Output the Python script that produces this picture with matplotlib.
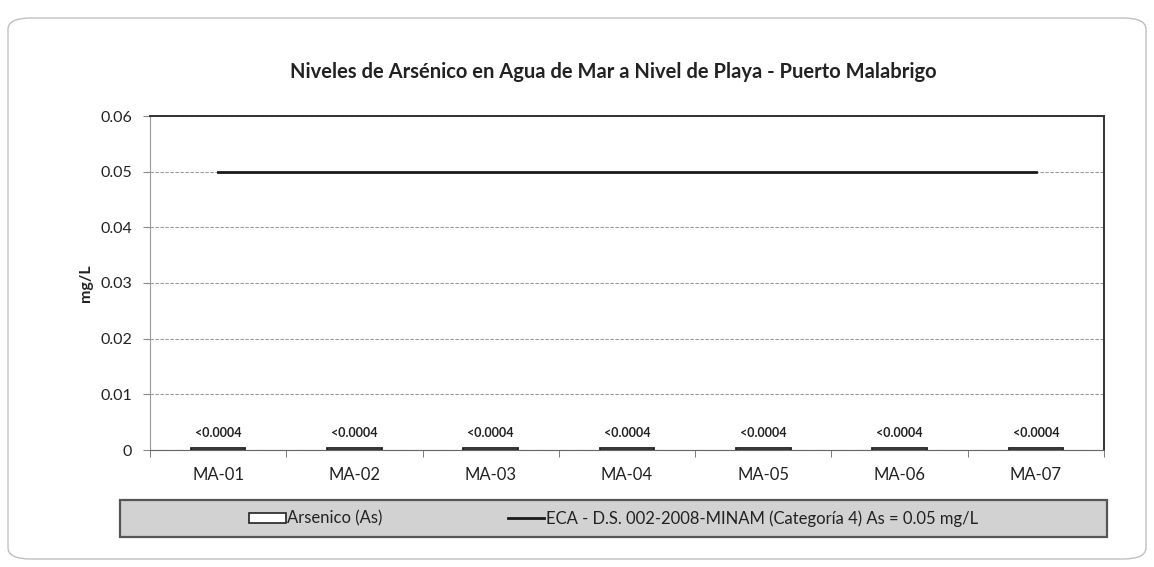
import matplotlib
matplotlib.use("Agg")
import matplotlib.pyplot as plt
from matplotlib.patches import FancyBboxPatch, Rectangle
from matplotlib.lines import Line2D
import numpy as np

plt.rcParams['font.family'] = ['Lato', 'DejaVu Sans']

categories = ["MA-01", "MA-02", "MA-03", "MA-04", "MA-05", "MA-06", "MA-07"]
arsenic = [0.0004, 0.0004, 0.0004, 0.0004, 0.0004, 0.0004, 0.0004]
arsenic_labels = ["<0.0004"] * 7
eca = [0.05] * 7
yticks = [0, 0.01, 0.02, 0.03, 0.04, 0.05, 0.06]
ytick_labels = ["0", "0.01", "0.02", "0.03", "0.04", "0.05", "0.06"]

W, H = 1154, 567
fig = plt.figure(figsize=(W / 100, H / 100), dpi=100)

# outer rounded frame
frame = FancyBboxPatch((8 / W, 8 / H), (1146 - 8) / W, (549 - 8) / H,
                       boxstyle="round,pad=0,rounding_size=0.02",
                       transform=fig.transFigure, facecolor="white",
                       edgecolor="#c0c0c0", linewidth=1.0, zorder=-10)
fig.patches.append(frame)

left, right, top, bottom = 150, 1104, 116, 450
ax = fig.add_axes([left / W, 1 - bottom / H, (right - left) / W, (bottom - top) / H])
ax.set_zorder(2)
x = np.arange(len(categories))

ax.bar(x, arsenic, width=0.4, facecolor="white", edgecolor="#222222", linewidth=1.3, zorder=3)
ax.plot(x, eca, color="#1a1a1a", linewidth=2.0, zorder=4)

for xi, v, lab in zip(x, arsenic, arsenic_labels):
    ax.text(xi, v + 0.0015, lab, ha="center", va="bottom", fontsize=9, fontweight="bold", color="#222222")

ax.set_xlim(-0.5, len(categories) - 0.5)
ax.set_ylim(0, 0.06)
ax.set_yticks(yticks)
ax.set_yticklabels(ytick_labels, fontsize=11.5, color="#222222")
ax.set_xticks(x)
ax.set_xticklabels(categories, fontsize=12, color="#222222")
ax.set_xticks(np.arange(-0.5, len(categories), 1), minor=True)
ax.tick_params(axis="x", which="major", length=0, pad=12)
ax.tick_params(axis="x", which="minor", length=5, direction="out", color="#666666")
ax.tick_params(axis="y", length=5, direction="out", color="#888888", pad=8)
ax.yaxis.grid(True, linestyle=(0, (3, 1.5)), color="#999999", linewidth=0.8)
ax.set_axisbelow(True)

ax.spines["top"].set_color("#333333")
ax.spines["top"].set_linewidth(1.4)
ax.spines["right"].set_color("#333333")
ax.spines["right"].set_linewidth(1.4)
ax.spines["left"].set_color("#999999")
ax.spines["bottom"].set_color("#666666")

ax.set_ylabel("mg/L", fontsize=11.5, fontweight="bold", labelpad=5, color="#222222")

fig.text(613 / W, 1 - 72 / H, "Niveles de Arsénico en Agua de Mar a Nivel de Playa - Puerto Malabrigo",
         ha="center", va="center", fontsize=14.5, fontweight="bold", color="#222222")

# legend box
legbox = Rectangle((120 / W, 1 - 537 / H), (1107 - 120) / W, 37 / H,
                   transform=fig.transFigure, facecolor="#d2d2d2", edgecolor="#555555",
                   linewidth=1.6, zorder=-5)
fig.patches.append(legbox)
leg = ax.legend([Rectangle((0, 0), 1, 1, facecolor="white", edgecolor="#222222", linewidth=1.2),
                 Line2D([0], [0], color="#1a1a1a", linewidth=2.0)],
                ["Arsenico (As)", "ECA - D.S. 002-2008-MINAM (Categoría 4) As = 0.05 mg/L"],
                loc="center", bbox_to_anchor=((613.5 - left) / (right - left), (450 - 518.5) / (450 - 116)),
                ncol=2, fontsize=12, frameon=False, handlelength=2.2, handleheight=0.6,
                handletextpad=0.1, columnspacing=7.5)
for t in leg.get_texts():
    t.set_color("#222222")

fig.savefig("out.png", dpi=100)
